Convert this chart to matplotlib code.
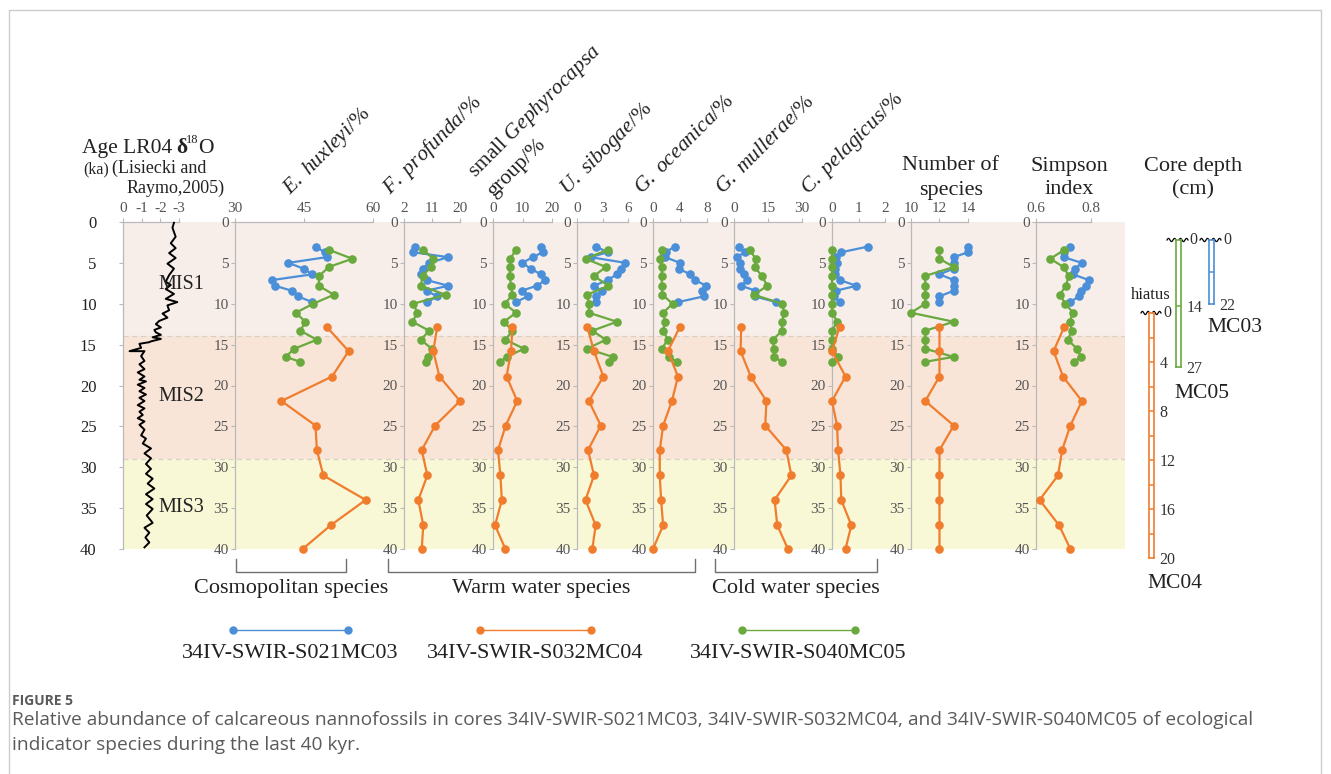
import numpy as np
import matplotlib
matplotlib.use("Agg")
import matplotlib.pyplot as plt

W, H = 1331, 774
plt.rcParams['font.family'] = ['Liberation Serif', 'DejaVu Serif']
plt.rcParams['mathtext.fontset'] = 'custom'
plt.rcParams['mathtext.rm'] = 'Liberation Serif'
plt.rcParams['mathtext.it'] = 'Liberation Serif:italic'
plt.rcParams['mathtext.bf'] = 'Liberation Serif:bold'

# ---------------- data ----------------
age_ticks = [0, 5, 10, 15, 20, 25, 30, 35, 40]
mis_bounds = [0, 14, 29, 40]
mis_names = ['MIS1', 'MIS2', 'MIS3']

# LR04 benthic d18O stack (axis labelled 0 .. -3)
lr04_age = [0.1, 0.7, 1.8, 2.6, 3.2, 3.8, 4.4, 5.1, 5.7, 6.5, 7.3, 7.7, 8.2, 8.8, 9.4,
            9.8, 10.2, 10.8, 11.2, 11.7, 12.1, 12.5, 12.9, 13.2, 13.5, 13.8, 14.1, 14.3,
            14.6, 14.7, 14.9, 15.4, 15.8, 15.8, 16.4, 17.0, 17.4, 18.0, 18.4, 18.9, 19.3,
            19.5, 19.9, 20.3, 20.7, 21.1, 21.5, 21.9, 22.4, 22.8, 23.2, 23.6, 24.0, 24.4,
            24.8, 25.4, 26.1, 26.5, 27.1, 27.7, 28.3, 28.9, 29.6, 30.2, 30.8, 31.4, 32.0,
            32.6, 33.3, 33.9, 34.5, 35.1, 35.9, 36.8, 37.4, 38.0, 38.6, 39.2, 39.8]
lr04_d18o = [-2.73, -2.65, -2.82, -2.56, -2.82, -2.47, -2.82, -2.38, -2.73, -2.47, -2.29,
             -2.56, -2.29, -2.73, -2.29, -2.91, -2.38, -2.47, -2.12, -2.38, -1.94, -1.76,
             -2.03, -1.68, -1.76, -2.03, -1.59, -2.03, -1.50, -1.41, -0.88, -0.97, -0.35,
             -1.15, -0.97, -1.15, -0.88, -1.15, -0.79, -1.15, -0.88, -1.23, -0.79, -1.15,
             -0.88, -1.23, -0.88, -1.15, -0.79, -1.15, -0.88, -1.06, -0.79, -1.15, -0.88,
             -1.15, -0.97, -1.23, -1.06, -1.50, -1.15, -1.50, -1.23, -1.50, -1.23, -1.59,
             -1.32, -1.68, -1.23, -1.59, -1.23, -1.59, -1.27, -1.59, -1.15, -1.41, -1.20,
             -1.41, -1.15]

# sample ages (ka) of the three cores
age_mc03 = [3.0, 3.7, 4.3, 5.0, 5.7, 6.4, 7.1, 7.8, 8.4, 9.1, 9.8]
age_mc04 = [12.8, 15.8, 18.9, 21.9, 24.9, 27.9, 31.0, 34.0, 37.1, 40.0]
age_mc05 = [3.4, 4.5, 5.5, 6.6, 7.8, 8.9, 10.0, 11.1, 12.2, 13.3, 14.4, 15.5, 16.5, 17.1]

ehux_mc03 = [47.5, 49.5, 49.9, 41.6, 44.9, 46.8, 38.1, 38.7, 42.3, 43.7, 46.8]
ehux_mc04 = [49.9, 54.7, 51.1, 40.1, 47.5, 47.8, 49.2, 58.4, 50.8, 44.7]
ehux_mc05 = [50.4, 55.5, 50.4, 48.3, 48.2, 51.5, 47.0, 43.2, 45.3, 44.2, 47.8, 42.9, 41.0, 44.2]

fprof_mc03 = [5.5, 5.0, 16.2, 10.1, 8.0, 7.4, 9.3, 16.2, 9.3, 12.7, 9.5]
fprof_mc04 = [12.7, 11.4, 13.4, 20.0, 12.0, 7.7, 9.5, 6.6, 8.2, 7.7]
fprof_mc05 = [8.2, 11.4, 10.6, 8.0, 7.4, 15.4, 5.0, 6.3, 4.7, 10.1, 7.4, 10.9, 9.8, 9.0]

gsmall_mc03 = [16.2, 16.8, 13.5, 9.9, 12.8, 16.2, 17.7, 14.9, 9.7, 11.7, 7.8]
gsmall_mc04 = [6.6, 6.1, 4.6, 8.2, 4.3, 1.7, 2.5, 3.0, 0.7, 4.2]
gsmall_mc05 = [7.7, 5.9, 5.7, 5.7, 6.1, 6.6, 4.0, 7.8, 3.7, 6.6, 4.2, 10.5, 4.6, 2.5]

usib_mc03 = [2.2, 3.6, 1.6, 5.7, 5.2, 4.7, 3.6, 2.0, 2.9, 2.2, 2.2]
usib_mc04 = [1.2, 2.0, 3.1, 1.4, 2.8, 1.3, 2.0, 1.0, 2.2, 1.8]
usib_mc05 = [3.6, 1.0, 3.4, 2.0, 3.7, 1.2, 1.4, 1.4, 4.7, 1.8, 3.4, 1.2, 4.2, 3.8]

gocea_mc03 = [3.2, 1.9, 1.8, 4.0, 3.8, 5.5, 6.2, 7.9, 7.3, 7.5, 3.7]
gocea_mc04 = [4.0, 2.2, 3.7, 2.8, 1.5, 1.0, 1.0, 1.2, 1.5, 0.0]
gocea_mc05 = [1.4, 1.0, 1.3, 1.3, 1.3, 1.4, 2.9, 1.5, 1.8, 1.5, 2.2, 1.3, 2.4, 3.5]

gmull_mc03 = [2.1, 4.7, 1.2, 2.8, 2.5, 4.4, 5.9, 3.2, 9.4, 9.1, 18.7]
gmull_mc04 = [3.2, 2.9, 7.4, 14.3, 13.8, 23.1, 25.3, 17.9, 19.1, 23.8]
gmull_mc05 = [6.9, 9.6, 9.1, 12.3, 14.7, 8.8, 21.3, 22.1, 21.2, 21.2, 17.2, 17.6, 17.6, 21.2]

cpel_mc03 = [1.37, 0.35, 0.14, 0.20, 0.10, 0.13, 0.29, 0.92, 0.16, 0.08, 0.29]
cpel_mc04 = [0.29, 0.0, 0.51, 0.0, 0.19, 0.23, 0.32, 0.35, 0.73, 0.51]
cpel_mc05 = [0, 0, 0, 0, 0, 0, 0, 0, 0.20, 0, 0, 0, 0.23, 0]

nsp_mc03 = [14, 14, 13, 13, 13, 12, 13, 13, 13, 12, 12]
nsp_mc04 = [12, 12, 12, 11, 13, 12, 12, 12, 12, 12]
nsp_mc05 = [12, 12, 13, 11, 11, 11, 11, 10, 13, 11, 11, 11, 13, 11]

simp_mc03 = [0.725, 0.70, 0.70, 0.767, 0.742, 0.734, 0.792, 0.783, 0.765, 0.755, 0.725]
simp_mc04 = [0.703, 0.664, 0.698, 0.767, 0.725, 0.695, 0.680, 0.613, 0.684, 0.725]
simp_mc05 = [0.703, 0.652, 0.700, 0.719, 0.709, 0.686, 0.707, 0.735, 0.722, 0.731, 0.715,
             0.749, 0.764, 0.737]

core_names = ['34IV-SWIR-S021MC03', '34IV-SWIR-S032MC04', '34IV-SWIR-S040MC05']
core_short = ['MC03', 'MC04', 'MC05']
core_len_cm = [22, 20, 27]
core_tick_cm = [[11], [2, 4, 6, 8, 10, 12, 14, 16, 18], [14]]
core_label_cm = [[22], [4, 8, 12, 16, 20], [14, 27]]

group_names = ['Cosmopolitan species', 'Warm water species', 'Cold water species']

# ---------------- style ----------------
C03, C04, C05 = '#4A8FD8', '#F07D2D', '#69A93D'
MIS_COLORS = ['#F7EEEA', '#F9E5D8', '#F9F8D6']
TICK_GREY = '#555555'
SPINE = '#b9b9b9'
TXT = '#222222'

fig = plt.figure(figsize=(W / 100, H / 100), dpi=100)


def px_rect(x0, x1, y0, y1):
    return [x0 / W, 1 - y1 / H, (x1 - x0) / W, (y1 - y0) / H]


Y_TOP, Y_BOT = 222, 549

# overlay in pixel units for frame, brackets, legend, captions
ov = fig.add_axes([0, 0, 1, 1])
ov.set_xlim(0, W)
ov.set_ylim(H, 0)
ov.axis('off')

# MIS bands behind all panels
bg = fig.add_axes(px_rect(123, 1125, Y_TOP, Y_BOT))
bg.set_ylim(40, 0)
bg.set_xlim(0, 1)
bg.axis('off')
for a0, a1, col in zip(mis_bounds[:-1], mis_bounds[1:], MIS_COLORS):
    bg.axhspan(a0, a1, color=col, lw=0)
for b in mis_bounds[1:-1]:
    bg.axhline(b, color='#d8cfc8', lw=0.9, ls=(0, (4, 3)))


def style_panel(ax, xlim, xticks, xticklabels, ylab_color=TICK_GREY, ylab_size=11, ypad=1.5):
    ax.set_xlim(*xlim)
    ax.set_ylim(40, 0)
    ax.patch.set_visible(False)
    for s in ('right', 'bottom'):
        ax.spines[s].set_visible(False)
    for s in ('left', 'top'):
        ax.spines[s].set_color(SPINE)
        ax.spines[s].set_linewidth(0.9)
    ax.xaxis.tick_top()
    ax.set_xticks(xticks)
    ax.set_xticklabels(xticklabels)
    ax.set_yticks(age_ticks)
    ax.set_yticklabels([str(a) for a in age_ticks])
    ax.tick_params(axis='x', colors=SPINE, labelcolor=TICK_GREY, labelsize=11,
                   length=3, width=0.8, pad=2.0)
    ax.tick_params(axis='y', colors=SPINE, labelcolor=ylab_color, labelsize=ylab_size,
                   length=3, width=0.8, pad=ypad)


# LR04 panel with the age axis
ax0 = fig.add_axes(px_rect(123, 179, Y_TOP, Y_BOT))
style_panel(ax0, (0, -3), [0, -1, -2, -3], ['0', '-1', '-2', '-3'],
            ylab_color=TXT, ylab_size=12, ypad=16)
ax0.plot(lr04_d18o, lr04_age, color='black', lw=1.4, clip_on=False, zorder=3)
mis_label_age = [7.7, 21.3, 34.9]
for name, a in zip(mis_names, mis_label_age):
    ax0.text(1.45, a, name, transform=ax0.get_yaxis_transform(), ha='right', va='center',
             fontsize=14.5, color=TXT, zorder=4)

panels = [
    ((235, 373), (30, 60), [30, 45, 60], ehux_mc03, ehux_mc04, ehux_mc05),
    ((404, 460), (2, 20), [2, 11, 20], fprof_mc03, fprof_mc04, fprof_mc05),
    ((493, 552), (0, 20), [0, 10, 20], gsmall_mc03, gsmall_mc04, gsmall_mc05),
    ((577, 628), (0, 6), [0, 3, 6], usib_mc03, usib_mc04, usib_mc05),
    ((653, 707), (0, 8), [0, 4, 8], gocea_mc03, gocea_mc04, gocea_mc05),
    ((734, 802), (0, 30), [0, 15, 30], gmull_mc03, gmull_mc04, gmull_mc05),
    ((832, 885), (0, 2), [0, 1, 2], cpel_mc03, cpel_mc04, cpel_mc05),
    ((911, 968), (10, 14), [10, 12, 14], nsp_mc03, nsp_mc04, nsp_mc05),
    ((1036, 1091), (0.6, 0.8), [0.6, 0.8], simp_mc03, simp_mc04, simp_mc05),
]

line_kw = dict(marker='o', ms=6.2, lw=1.6, clip_on=False, markeredgewidth=0)
for (x0, x1), xlim, ticks, v03, v04, v05 in panels:
    ax = fig.add_axes(px_rect(x0, x1, Y_TOP, Y_BOT))
    labels = [('%g' % t) for t in ticks]
    style_panel(ax, xlim, ticks, labels)
    ax.plot(v03, age_mc03, color=C03, zorder=3, **line_kw)
    ax.plot(v05, age_mc05, color=C05, zorder=4, **line_kw)
    ax.plot(v04, age_mc04, color=C04, zorder=5, **line_kw)

# rotated species titles
titles = [
    ('$\\mathit{E.\\ huxleyi/\\%}$', 290, 195),
    ('$\\mathit{F.\\ profunda/\\%}$', 390, 195),
    ('small $\\mathit{Gephyrocapsa}$', 475, 178),
    ('group/%', 494, 197),
    ('$\\mathit{U.\\ sibogae/\\%}$', 567, 195),
    ('$\\mathit{G.\\ oceanica/\\%}$', 642, 195),
    ('$\\mathit{G.\\ mullerae/\\%}$', 723, 195),
    ('$\\mathit{C.\\ pelagicus/\\%}$', 808, 195),
]
for t, x, y in titles:
    ov.text(x, y, t, rotation=45, rotation_mode='anchor', ha='left', va='baseline',
            fontsize=15.5, color=TXT)

# horizontal headers
ov.text(82, 153, 'Age LR04', fontsize=15.5, color=TXT, ha='left', va='baseline')
ov.text(176, 153, '\u03b4', fontsize=15.5, fontweight='bold', color=TXT, ha='left',
        va='baseline')
ov.text(186, 143, '18', fontsize=9, color=TXT, ha='left', va='baseline')
ov.text(198, 153, 'O', fontsize=15.5, color=TXT, ha='left', va='baseline')
ov.text(83, 173, '(ka)', fontsize=11.5, color=TXT, ha='left', va='baseline')
ov.text(112, 173, '(Lisiecki and', fontsize=13, color=TXT, ha='left', va='baseline')
ov.text(127, 193, 'Raymo,2005)', fontsize=13, color=TXT, ha='left', va='baseline')

for (l1, l2), xc in zip([('Number of', 'species'), ('Simpson', 'index'),
                         ('Core depth', '(cm)')], [951, 1069, 1193]):
    ov.text(xc, 166, l1, fontsize=16, color=TXT, ha='center', va='center')
    ov.text(xc, 190, l2, fontsize=16, color=TXT, ha='center', va='center')

# group brackets under the species panels
brackets = [(236, 346), (388, 695), (715, 877)]
for (bx0, bx1), name in zip(brackets, group_names):
    ov.plot([bx0, bx0, bx1, bx1], [559, 572, 572, 559], color='#707070', lw=1.0)
    ov.text((bx0 + bx1) / 2, 588, name, fontsize=16, color=TXT, ha='center', va='center')

# legend
leg_x = [(233, 348), (480, 591), (742, 855)]
leg_cols = [C03, C04, C05]
for (lx0, lx1), col, name in zip(leg_x, leg_cols, core_names):
    ov.plot([lx0, lx1], [630, 630], color=col, lw=1.0, marker='o', ms=6,
            markeredgewidth=0)
    ov.text((lx0 + lx1) / 2, 654, name, fontsize=16, color=TXT, ha='center', va='center')

# core depth columns
core_geom = [(1209, 240, 304), (1149, 313, 558), (1176, 240, 367)]
core_cols = [C03, C04, C05]
for (cx, cy0, cy1), col, clen, tks, lbs in zip(core_geom, core_cols, core_len_cm,
                                                core_tick_cm, core_label_cm):
    cax = fig.add_axes(px_rect(cx, cx + 5, cy0, cy1))
    cax.set_xlim(0, 1)
    cax.set_ylim(clen, 0)
    cax.patch.set_facecolor('white')
    for s in cax.spines.values():
        s.set_color(col)
        s.set_linewidth(1.2)
    cax.set_xticks([])
    cax.yaxis.tick_right()
    cax.set_yticks(lbs)
    cax.set_yticklabels([str(v) for v in lbs])
    cax.tick_params(axis='y', length=0, pad=4, labelsize=11.5, labelcolor='#333333')
    cax.hlines(tks, 0, 1, color=col, lw=1.1)

# wavy core tops and zero labels
for wx0, wx1, wy, zx in [(1141, 1161, 313, 1163), (1167, 1188, 240, 1189),
                         (1200, 1221, 240, 1223)]:
    xs = np.linspace(wx0, wx1, 80)
    ov.plot(xs, wy - 1.6 * np.sin((xs - wx0) / (wx1 - wx0) * 2 * np.pi * 3.5),
            color='black', lw=0.9)
    ov.text(zx, wy, '0', fontsize=11.5, color='#333333', ha='left', va='center')
ov.text(1151, 295, 'hiatus', fontsize=12, color=TXT, ha='center', va='center')
for name, (xc, yc) in zip(core_short, [(1235, 327), (1175, 583), (1202, 393)]):
    ov.text(xc, yc, name, fontsize=15.5, color=TXT, ha='center', va='center')

# frame and caption
ov.plot([9, 9, 1321, 1321], [774, 10, 10, 774], color='#cccccc', lw=1.0)
CAP = ['Open Sans', 'DejaVu Sans']
ov.text(12, 701, 'FIGURE 5', fontsize=10, color='#5a5a5a', ha='left', va='center',
        family=CAP, fontweight='bold')
ov.text(12, 720, 'Relative abundance of calcareous nannofossils in cores 34IV-SWIR-S021MC03, '
        '34IV-SWIR-S032MC04, and 34IV-SWIR-S040MC05 of ecological',
        fontsize=13.8, color='#5a5a5a', ha='left', va='center', family=CAP)
ov.text(12, 745, 'indicator species during the last 40 kyr.',
        fontsize=13.8, color='#5a5a5a', ha='left', va='center', family=CAP)

fig.savefig('out.png', dpi=100)
